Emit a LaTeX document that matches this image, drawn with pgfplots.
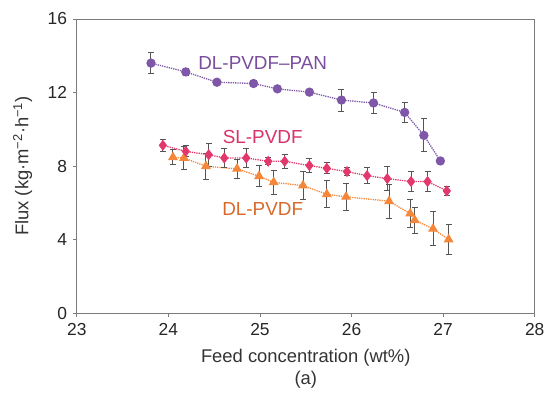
\documentclass[border=0pt]{standalone}
\usepackage{pgfplots}
\pgfplotsset{compat=1.18}
\usepackage{fontspec}
\setmainfont{Liberation Sans}
\definecolor{cpan}{HTML}{7E57A8}
\definecolor{csl}{HTML}{E2386C}
\definecolor{cdl}{HTML}{F5873A}
\definecolor{tpan}{HTML}{7A4E9C}
\definecolor{tsl}{HTML}{D83368}
\definecolor{tdl}{HTML}{D9692A}
\definecolor{errc}{HTML}{555555}
\definecolor{axc}{HTML}{7A7A7A}
\begin{document}
\fontsize{17}{20}\selectfont
\begin{tikzpicture}
\begin{axis}[
  scale only axis, width=459bp, height=295bp,
  xmin=23, xmax=28, ymin=0, ymax=16,
  xtick={23,24,25,26,27,28}, ytick={0,4,8,12,16},
  tick align=outside, xtick pos=bottom, ytick pos=left,
  major tick length=4bp,
  axis line style={axc, line width=0.9pt},
  tick style={axc, line width=0.9pt},
  /pgf/number format/assume math mode=true,
  ticklabel style={font=\fontsize{17.5}{20}\selectfont, text=black!85},
  label style={font=\fontsize{18.5}{21}\selectfont, text=black!80},
  xlabel={Feed concentration (wt\%)},
  ylabel={Flux (kg·m\textsuperscript{−2}·h\textsuperscript{−1})},
  xlabel style={yshift=-2bp},
  ylabel style={yshift=4bp},
  error bars/y dir=both, error bars/y explicit,
  error bars/error bar style={errc, line width=1pt, solid},
  error bars/error mark options={rotate=90, mark size=3bp, errc, line width=1pt, solid},
  clip=false,
]
\addplot[cpan, densely dotted, line width=1.3pt, mark=*, mark size=4bp, mark options={solid, fill=cpan}] coordinates {
(23.81,13.60) +- (0,0.56)
(24.19,13.12) +- (0,0.2)
(24.53,12.56) +- (0,0.1)
(24.93,12.49) +- (0,0.1)
(25.19,12.20) +- (0,0.1)
(25.54,12.02) +- (0,0.1)
(25.89,11.59) +- (0,0.6)
(26.24,11.43) +- (0,0.56)
(26.58,10.92) +- (0,0.56)
(26.79,9.67) +- (0,0.9)
(26.97,8.28) +- (0,0.1)
};
\addplot[cdl, densely dotted, line width=1.3pt, mark=triangle*, mark size=4.5bp, mark options={solid, fill=cdl}] coordinates {
(24.05,8.48) +- (0,0.42)
(24.17,8.44) +- (0,0.63)
(24.41,7.99) +- (0,0.71)
(24.75,7.85) +- (0,0.5)
(24.99,7.45) +- (0,0.56)
(25.15,7.12) +- (0,0.65)
(25.47,6.94) +- (0,0.75)
(25.73,6.47) +- (0,0.74)
(25.94,6.33) +- (0,0.72)
(26.41,6.09) +- (0,0.93)
(26.64,5.42) +- (0,0.77)
(26.69,5.06) +- (0,0.7)
(26.89,4.59) +- (0,0.93)
(27.06,4.01) +- (0,0.79)
};
\addplot[csl, densely dotted, line width=1.3pt, mark=diamond*, mark size=4.5bp, mark options={solid, fill=csl}] coordinates {
(23.94,9.13) +- (0,0.32)
(24.19,8.80) +- (0,0.3)
(24.44,8.62) +- (0,0.63)
(24.61,8.44) +- (0,0.52)
(24.85,8.44) +- (0,0.54)
(25.09,8.26) +- (0,0.2)
(25.27,8.26) +- (0,0.38)
(25.54,8.03) +- (0,0.4)
(25.73,7.88) +- (0,0.3)
(25.95,7.70) +- (0,0.2)
(26.17,7.48) +- (0,0.42)
(26.39,7.32) +- (0,0.64)
(26.65,7.16) +- (0,0.54)
(26.83,7.16) +- (0,0.54)
(27.04,6.65) +- (0,0.25)
};
\node[text=tpan, font=\fontsize{19}{22}\selectfont] at (axis cs:25.03,13.6) {DL-PVDF–PAN};
\node[text=tsl, font=\fontsize{19}{22}\selectfont] at (axis cs:25.03,9.6) {SL-PVDF};
\node[text=tdl, font=\fontsize{19}{22}\selectfont] at (axis cs:25.03,5.64) {DL-PVDF};
\node[text=black!80, font=\fontsize{18.5}{21}\selectfont] at (rel axis cs:0.5,0) [yshift=-67bp] {(a)};
\end{axis}
\path (-77bp,-79bp) rectangle (473bp,314bp);
\end{tikzpicture}
\end{document}
